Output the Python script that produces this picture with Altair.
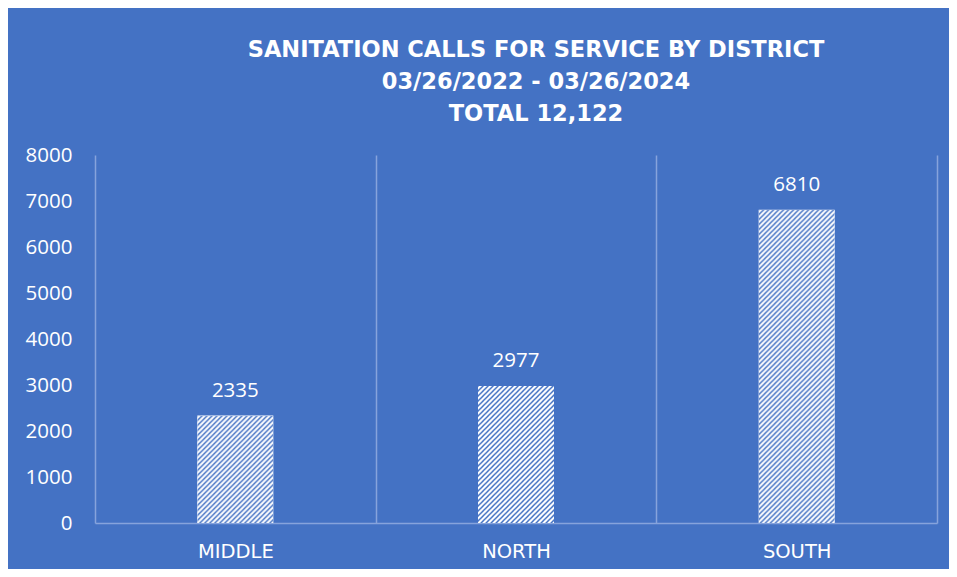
import urllib.parse
import altair as alt
import pandas as pd

# ---- data ----
districts = ["MIDDLE", "NORTH", "SOUTH"]
calls = [2335, 2977, 6810]
y_ticks = [0, 1000, 2000, 3000, 4000, 5000, 6000, 7000, 8000]
title_lines = [
    "SANITATION CALLS FOR SERVICE BY DISTRICT",
    "03/26/2022 - 03/26/2024",
    "TOTAL 12,122",
]

df = pd.DataFrame({"district": districts, "calls": calls})

# ---- style ----
BG = "#4472C4"
LINE = "#86A3DC"
TXT = "#FFFFFF"
PLOT_W, PLOT_H = 842, 368
Y_MAX = 8000
BAR_W = 76

# diagonal "/" hatch drawn 1:1 (svg without viewBox => no stretching)
hatch_svg = (
    '<svg xmlns="http://www.w3.org/2000/svg">'
    '<defs><pattern id="p" width="5" height="5" patternUnits="userSpaceOnUse">'
    '<rect width="5" height="5" fill="#ffffff"/>'
    '<path d="M-1,1 l2,-2 M0,5 l5,-5 M4,6 l2,-2" stroke="#4472C4" stroke-width="1.45"/>'
    '</pattern></defs>'
    '<rect width="100%" height="100%" fill="url(#p)"/></svg>'
)
hatch_url = "data:image/svg+xml;charset=utf-8," + urllib.parse.quote(hatch_svg, safe="")

x_enc = alt.X(
    "district:N",
    sort=districts,
    scale=alt.Scale(domain=districts, paddingInner=0, paddingOuter=0),
    axis=alt.Axis(
        title=None, labelAngle=0, labelFont="DejaVu Sans", labelFontSize=19.5,
        labelColor=TXT, labelPadding=19, ticks=False, grid=True,
        tickBand="extent", gridColor=LINE, gridWidth=1.5,
        domainColor=LINE, domainWidth=1.5,
    ),
)
y_enc = alt.Y(
    "calls:Q",
    scale=alt.Scale(domain=[0, Y_MAX], nice=False),
    axis=alt.Axis(
        title=None, values=y_ticks, format="d", labelFont="Open Sans",
        labelFontSize=20.5, labelColor=TXT, labelPadding=23, ticks=False,
        domain=False, grid=False,
    ),
)

base = alt.Chart(df)

bars = base.mark_bar(width=BAR_W, color="#FFFFFF").encode(x=x_enc, y=y_enc)

hatch = (
    base.transform_calculate(hatch="'" + hatch_url + "'")
    .mark_image(width=BAR_W, aspect=False)
    .encode(x=x_enc, y=y_enc, y2=alt.datum(0), url="hatch:N")
)

labels = base.mark_text(
    dy=-19, baseline="alphabetic", font="Open Sans", fontSize=20.5, color=TXT
).encode(x=x_enc, y=y_enc, text=alt.Text("calls:Q", format="d"))

chart = alt.layer(bars, hatch, labels).properties(
    width=PLOT_W,
    height=PLOT_H,
    autosize="none",
    padding={"left": 87, "top": 147, "right": 12, "bottom": 46},
    background=BG,
    title=alt.Title(
        text=title_lines,
        font="DejaVu Sans", fontSize=22.5, fontWeight="bold", color=TXT,
        lineHeight=32, anchor="middle", dx=20, offset=20,
    ),
).configure_view(stroke=None)

chart.save("out.html", embed_options={"renderer": "svg", "actions": False})
